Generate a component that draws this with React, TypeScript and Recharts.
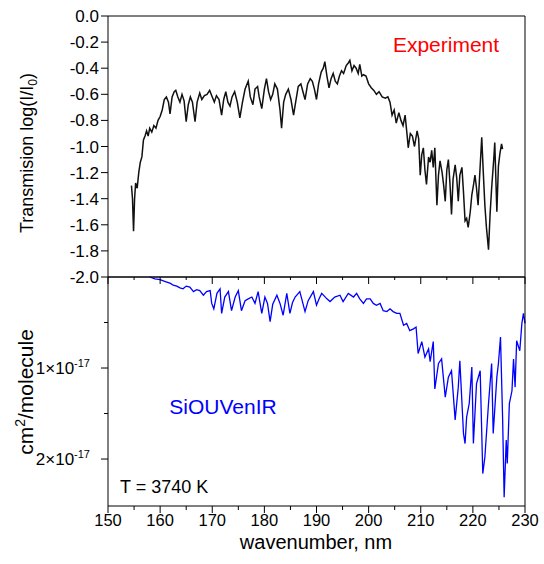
import React from 'react';
import { LineChart, Line, XAxis, YAxis } from 'recharts';

const FONT = '"Liberation Sans", Arial, Helvetica, sans-serif';

// Experiment: wavelength (nm) and transmission log(I/I0)
const expWavelength = [
  154.5, 154.7, 154.9, 155.1, 155.3, 155.6, 155.9, 156.2, 156.5, 156.8, 157.1, 157.4, 157.7, 158.0, 158.4, 158.8,
  159.2, 159.6, 160.0, 160.4, 160.8, 161.2, 161.6, 161.9, 162.3, 162.7, 163.0, 163.4, 163.8, 164.2, 164.6, 165.0,
  165.4, 165.8, 166.2, 166.7, 167.1, 167.6, 168.0, 168.5, 169.0, 169.5, 170.0, 170.4, 170.8, 171.3, 171.8, 172.2,
  172.6, 173.0, 173.4, 173.8, 174.3, 174.8, 175.3, 175.8, 176.3, 176.9, 177.3, 177.8, 178.2, 178.7, 179.0, 179.5,
  180.0, 180.4, 180.8, 181.2, 181.6, 182.0, 182.5, 183.0, 183.3, 183.7, 184.1, 184.6, 185.1, 185.6, 186.0, 186.5,
  187.0, 187.4, 187.8, 188.3, 188.8, 189.2, 189.6, 190.0, 190.4, 190.9, 191.3, 191.6, 192.0, 192.4, 192.8, 193.2,
  193.6, 194.0, 194.4, 194.8, 195.2, 195.7, 196.1, 196.4, 196.8, 197.2, 197.6, 198.0, 198.3, 198.7, 199.0, 199.5,
  200.0, 200.5, 201.0, 201.5, 202.0, 202.6, 203.2, 203.7, 204.1, 204.5, 204.9, 205.3, 205.8, 206.2, 206.6, 207.0,
  207.4, 207.6, 208.0, 208.4, 208.8, 209.3, 209.6, 209.9, 210.2, 210.5, 210.8, 211.1, 211.5, 211.8, 212.1, 212.4,
  212.7, 213.1, 213.4, 213.7, 214.1, 214.4, 214.7, 215.0, 215.3, 215.6, 215.9, 216.2, 216.6, 216.9, 217.2, 217.5,
  217.9, 218.2, 218.5, 218.8, 219.1, 219.5, 219.8, 220.1, 220.4, 220.7, 221.0, 221.4, 221.7, 222.0, 222.3, 222.6,
  223.0, 223.3, 223.6, 224.0, 224.2, 224.6, 224.9, 225.2, 225.5, 225.7,
];
const expTransmission = [
  -1.30, -1.40, -1.65, -1.40, -1.28, -1.32, -1.20, -1.12, -1.08, -0.95, -0.92, -0.88, -0.92, -0.86, -0.89, -0.84,
  -0.86, -0.80, -0.77, -0.72, -0.64, -0.62, -0.66, -0.75, -0.62, -0.58, -0.57, -0.62, -0.66, -0.60, -0.65, -0.81,
  -0.68, -0.62, -0.66, -0.81, -0.66, -0.59, -0.64, -0.61, -0.60, -0.57, -0.62, -0.66, -0.61, -0.64, -0.76, -0.64,
  -0.58, -0.66, -0.69, -0.62, -0.58, -0.66, -0.78, -0.66, -0.56, -0.50, -0.62, -0.68, -0.56, -0.54, -0.62, -0.71,
  -0.56, -0.48, -0.58, -0.64, -0.60, -0.52, -0.56, -0.72, -0.86, -0.66, -0.60, -0.56, -0.64, -0.76, -0.66, -0.54,
  -0.52, -0.58, -0.64, -0.52, -0.48, -0.50, -0.56, -0.64, -0.52, -0.43, -0.40, -0.35, -0.46, -0.55, -0.48, -0.44,
  -0.50, -0.52, -0.46, -0.42, -0.44, -0.38, -0.36, -0.34, -0.42, -0.38, -0.40, -0.44, -0.37, -0.46, -0.45, -0.46,
  -0.52, -0.55, -0.57, -0.60, -0.58, -0.62, -0.63, -0.62, -0.66, -0.76, -0.72, -0.82, -0.74, -0.80, -0.84, -0.76,
  -0.92, -1.01, -0.90, -0.92, -1.00, -0.88, -0.94, -1.22, -1.06, -1.01, -1.18, -1.29, -1.08, -1.12, -1.03, -1.16,
  -1.01, -1.45, -1.22, -1.11, -1.20, -1.30, -1.42, -1.18, -1.10, -1.28, -1.52, -1.25, -1.14, -1.24, -1.42, -1.22,
  -1.16, -1.35, -1.57, -1.55, -1.62, -1.50, -1.37, -1.30, -1.22, -1.32, -1.45, -1.15, -0.93, -1.20, -1.45, -1.62,
  -1.79, -1.52, -1.32, -1.10, -0.97, -1.50, -1.15, -1.05, -0.98, -1.02,
];

// SiOUVenIR: wavelength (nm) and cross section (units of 1e-17 cm2/molecule)
const calcWavelength = [
  158.0, 159.0, 160.0, 161.0, 162.0, 162.5, 163.2, 163.8, 164.4, 165.0, 165.7, 166.4, 167.0, 167.6, 168.3, 168.9,
  169.6, 169.9, 170.3, 170.9, 171.5, 171.8, 172.4, 173.1, 173.7, 174.4, 175.0, 175.6, 176.3, 176.9, 177.6, 178.2,
  178.8, 179.5, 180.1, 180.6, 181.1, 181.6, 182.4, 183.0, 183.6, 184.3, 184.9, 185.4, 185.9, 186.8, 187.8, 188.4,
  189.4, 190.0, 190.5, 191.0, 192.0, 192.6, 193.5, 194.5, 195.1, 196.1, 197.1, 197.7, 198.3, 199.0, 199.6, 200.3,
  200.9, 201.5, 202.2, 202.8, 203.5, 204.1, 204.7, 205.4, 206.0, 206.7, 207.3, 207.9, 208.6, 209.1, 209.5, 210.2,
  210.8, 211.5, 211.8, 212.4, 212.7, 213.4, 214.0, 214.7, 215.3, 215.9, 216.6, 217.2, 217.5, 218.2, 218.5, 218.8,
  219.3, 219.8, 220.1, 220.7, 221.4, 221.9, 222.3, 223.0, 223.6, 223.9, 224.6, 224.9, 225.3, 225.7, 226.0, 226.4,
  226.6, 227.0, 227.5, 227.8, 228.1, 228.4, 229.0, 229.4, 229.7, 230.0,
];
const calcCrossSection = [
  0.00, 0.02, 0.03, 0.05, 0.07, 0.09, 0.10, 0.12, 0.13, 0.10, 0.11, 0.16, 0.14, 0.15, 0.20, 0.16,
  0.15, 0.29, 0.35, 0.18, 0.13, 0.40, 0.22, 0.16, 0.37, 0.22, 0.15, 0.37, 0.26, 0.24, 0.22, 0.29,
  0.16, 0.40, 0.22, 0.29, 0.49, 0.30, 0.20, 0.29, 0.42, 0.18, 0.40, 0.28, 0.22, 0.16, 0.38, 0.26,
  0.16, 0.31, 0.24, 0.18, 0.24, 0.27, 0.22, 0.20, 0.27, 0.18, 0.22, 0.18, 0.24, 0.29, 0.24, 0.24,
  0.29, 0.31, 0.29, 0.37, 0.38, 0.35, 0.38, 0.40, 0.40, 0.53, 0.51, 0.59, 0.57, 0.55, 0.84, 0.71,
  0.88, 0.79, 0.93, 0.71, 1.23, 0.95, 0.90, 1.32, 1.10, 1.03, 1.57, 1.21, 0.92, 1.72, 1.83, 1.54,
  1.39, 0.99, 1.83, 1.17, 1.03, 2.16, 1.98, 1.39, 0.95, 1.72, 1.10, 0.95, 0.66, 1.54, 2.42, 1.79,
  2.05, 1.39, 1.25, 0.90, 1.21, 0.70, 0.81, 0.51, 0.40, 0.51,
];

const xDomain = [150, 230];
const xInnerMajorTicks = [160, 170, 180, 190, 200, 210, 220];
const xAllTicks = [150, 155, 160, 165, 170, 175, 180, 185, 190, 195, 200, 205, 210, 215, 220, 225, 230];
const topYTicks = [0, -0.2, -0.4, -0.6, -0.8, -1.0, -1.2, -1.4, -1.6, -1.8, -2.0];
const crossTicks = [0.5, 1, 1.5, 2];
const crossDomain = [0, 2.516];

const expData = expWavelength.map((x, i) => ({ x, y: expTransmission[i] }));
const calcData = calcWavelength.map((x, i) => ({ x, y: calcCrossSection[i] }));

const isMajorX = (v: number) => Math.abs(v % 10) < 1e-6;

const TopInnerTick = (p: any) => {
  const v = p.payload.value;
  const major = isMajorX(v);
  return (
    <line x1={p.x} x2={p.x} y1={p.y} y2={p.y + (major ? 7 : 3)} stroke="#000" strokeWidth={1} />
  );
};

const BottomXTick = (p: any) => {
  const v = p.payload.value;
  const major = isMajorX(v);
  return (
    <g>
      <line x1={p.x} x2={p.x} y1={p.y} y2={p.y + (major ? 7 : 4)} stroke="#000" strokeWidth={1} />
      {major && (
        <text x={p.x} y={p.y + 20} textAnchor="middle" fontSize={16.5} fontFamily={FONT} fill="#000">
          {v}
        </text>
      )}
    </g>
  );
};

const LeftCrossTick = (p: any) => {
  const v = p.payload.value;
  const major = Math.abs(v % 1) < 1e-6;
  return (
    <g>
      <line x1={p.x} x2={p.x - (major ? 7 : 4)} y1={p.y} y2={p.y} stroke="#000" strokeWidth={1} />
      {major && (
        <text x={p.x - 18} y={p.y + 6} textAnchor="end" fontSize={17} fontFamily={FONT} fill="#000">
          <tspan>{v}×10</tspan>
          <tspan dy={-7} fontSize={11}>-17</tspan>
        </text>
      )}
    </g>
  );
};

const RightCrossTick = (p: any) => (
  <line x1={p.x} x2={p.x - 5} y1={p.y} y2={p.y} stroke="#000" strokeWidth={1} />
);

export default function App() {
  return (
    <div style={{ position: 'absolute', left: 0, top: 0, width: 544, height: 564, background: '#fff' }}>
      <div style={{ position: 'absolute', left: 0, top: 0 }}>
        <LineChart width={544} height={292} data={expData} margin={{ top: 16, right: 19, bottom: 15, left: 0 }}>
          <XAxis
            xAxisId="top" orientation="top" mirror type="number" dataKey="x" domain={xDomain}
            ticks={xInnerMajorTicks} interval={0} tick={false} tickSize={6} stroke="#000"
          />
          <XAxis
            xAxisId="bottom" orientation="bottom" mirror type="number" dataKey="x" domain={xDomain}
            ticks={xInnerMajorTicks} interval={0} tick={false} tickSize={8} stroke="#000"
          />
          <YAxis
            yAxisId="left" type="number" domain={[-2, 0]} ticks={topYTicks} interval={0} width={108}
            tickSize={7} tickMargin={2} stroke="#000"
            tick={{ fontSize: 17, fill: '#000', fontFamily: FONT }}
            tickFormatter={(v: number) => v.toFixed(1)}
          />
          <YAxis
            yAxisId="right" orientation="right" mirror type="number" domain={[-2, 0]}
            tick={false} tickLine={false} stroke="#000"
          />
          <Line
            xAxisId="top" yAxisId="left" dataKey="y" type="linear" stroke="#111" strokeWidth={1.5}
            dot={false} isAnimationActive={false}
          />
        </LineChart>
      </div>
      <div style={{ position: 'absolute', left: 0, top: 270 }}>
        <LineChart width={544} height={294} data={calcData} margin={{ top: 7, right: 19, bottom: 0, left: 0 }}>
          <XAxis
            xAxisId="top" orientation="top" mirror type="number" dataKey="x" domain={xDomain}
            ticks={xAllTicks} interval={0} tickLine={false} tickSize={0} tickMargin={0}
            tick={TopInnerTick} stroke="#000"
          />
          <XAxis
            xAxisId="bottom" orientation="bottom" type="number" dataKey="x" domain={xDomain}
            ticks={xAllTicks} interval={0} height={58} tickLine={false} tickSize={0} tickMargin={0}
            tick={BottomXTick} stroke="#000"
          />
          <YAxis
            yAxisId="left" reversed type="number" domain={crossDomain} ticks={crossTicks} interval={0}
            width={108} tickLine={false} tickSize={0} tickMargin={0} tick={LeftCrossTick} stroke="#000"
          />
          <YAxis
            yAxisId="right" orientation="right" mirror reversed type="number" domain={crossDomain}
            ticks={crossTicks} interval={0} tickLine={false} tickSize={0} tickMargin={0}
            tick={RightCrossTick} stroke="#000"
          />
          <Line
            xAxisId="bottom" yAxisId="left" dataKey="y" type="linear" stroke="#0000ff" strokeWidth={1.3}
            dot={false} isAnimationActive={false}
          />
        </LineChart>
      </div>
      <svg
        width={544} height={564}
        style={{ position: 'absolute', left: 0, top: 0, pointerEvents: 'none' }}
        fontFamily={FONT}
      >
        <text x={446} y={52} textAnchor="middle" fontSize={21} fill="#ff0000">Experiment</text>
        <text x={223} y={414} textAnchor="middle" fontSize={21} fill="#0000ff">SiOUVenIR</text>
        <text x={120} y={493} textAnchor="start" fontSize={18} fill="#000">T = 3740 K</text>
        <text x={316} y={549} textAnchor="middle" fontSize={20} fill="#000">wavenumber, nm</text>
        <text x={33} y={153} textAnchor="middle" fontSize={18} fill="#000" transform="rotate(-90 33 153)">
          Transmision log(I/I<tspan dy={4} fontSize={12}>0</tspan><tspan dy={-4}>)</tspan>
        </text>
        <text x={33} y={392} textAnchor="middle" fontSize={21} fill="#000" transform="rotate(-90 33 392)">
          cm<tspan dy={-8} fontSize={14}>2</tspan><tspan dy={8}>/molecule</tspan>
        </text>
      </svg>
    </div>
  );
}
